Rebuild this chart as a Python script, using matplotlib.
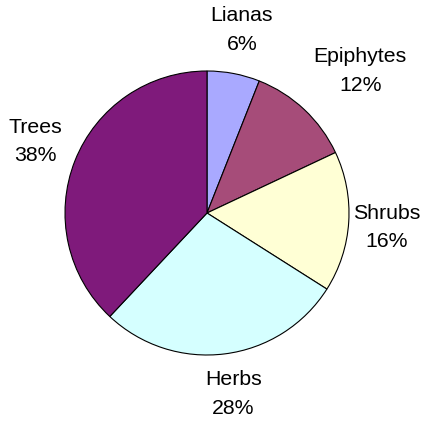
import numpy as np
import matplotlib
matplotlib.use("Agg")
import matplotlib.pyplot as plt

plt.rcParams['font.family'] = ['Liberation Sans', 'DejaVu Sans']

# slices, clockwise from 12 o'clock
names = ['Lianas', 'Epiphytes', 'Shrubs', 'Herbs', 'Trees']
shares = [6, 12, 16, 28, 38]
colors = ['#a9a9ff', '#a64c79', '#ffffd5', '#d5ffff', '#7f1a7b']
label_dist = [1.31, 1.47, 1.27, 1.29, 1.31]
label_turn = [0, -4, -1, 1, -1]  # degrees, small nudges to match the original

W, H = 428, 421
cx, cy, R = 207, 208, 142  # pie centre (from bottom) and radius, pixels

fig = plt.figure(figsize=(W / 100, H / 100), dpi=100)
ax = fig.add_axes([0, 0, 1, 1])

wedges, _ = ax.pie(shares, colors=colors, startangle=90, counterclock=False,
                   wedgeprops=dict(edgecolor='black', linewidth=0.8))

# labels: name over percentage, centred outside each slice
for w, name, s, d, t in zip(wedges, names, shares, label_dist, label_turn):
    mid = np.deg2rad((w.theta1 + w.theta2) / 2 + t)
    ax.text(d * np.cos(mid), d * np.sin(mid), f"{name}\n{s}%",
            ha='center', va='center', fontsize=15.3, linespacing=1.65)

ax.set_xlim(-cx / R, (W - cx) / R)
ax.set_ylim(-cy / R, (H - cy) / R)
ax.set_aspect('auto')
ax.axis('off')

fig.savefig('out.png', dpi=100)
